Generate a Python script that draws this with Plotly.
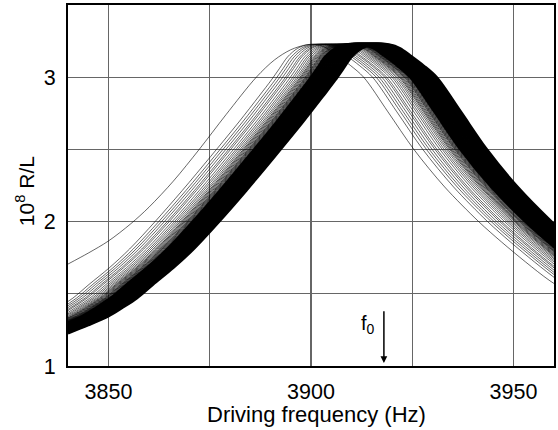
import plotly.graph_objects as go

# ---- data ----
# Rightmost (outer) response curve of the dense family: driving frequency (Hz) -> 10^8 R/L
R_HZ = [3840, 3845, 3850, 3853.5, 3857, 3861, 3866, 3871, 3877.3, 3884, 3891, 3898,
        3903, 3906, 3908, 3910, 3912.5, 3915, 3919.5, 3922, 3924.5, 3927.8, 3931,
        3937, 3943.4, 3951, 3959.4, 3965, 3971, 3977, 3985]
R_VAL = [1.227, 1.283, 1.345, 1.405, 1.47, 1.565, 1.68, 1.81, 2.00, 2.215, 2.45, 2.69,
         2.87, 2.98, 3.06, 3.14, 3.20, 3.225, 3.225, 3.20, 3.15, 3.08, 3.00,
         2.76, 2.50, 2.24, 2.00, 1.86, 1.72, 1.59, 1.45]

# Isolated earliest (leftmost) response curve
L_HZ = [3840, 3845, 3850, 3855.5, 3860, 3866, 3872.4, 3879, 3886.5, 3891, 3895,
        3899, 3901.5, 3904, 3906.5, 3909.8, 3913, 3919, 3925.4, 3933, 3941.4,
        3947, 3953, 3959, 3967]
L_VAL = [1.706, 1.782, 1.866, 1.985, 2.10, 2.28, 2.50, 2.74, 3.00, 3.12, 3.19,
         3.225, 3.225, 3.20, 3.15, 3.08, 3.00, 2.76, 2.50, 2.24, 2.00,
         1.86, 1.72, 1.59, 1.45]

# Frequency offsets (Hz, to lower frequency) of the other sweeps relative to the rightmost curve
SOLID_SHIFTS = [0.0, 0.5, 1.0, 1.5, 2.0, 2.5, 3.0, 3.5, 4.0, 4.5, 5.0, 5.5, 6.0, 6.5]
STIPPLE_SHIFTS = [6.8, 7.0, 7.2, 7.4, 7.6, 7.8, 8.0, 8.3, 8.6, 8.9, 9.2]
THIN_SHIFTS = [9.6, 10.0, 10.5, 11.0, 11.6, 12.3, 12.8, 13.5, 14.2, 14.9, 15.8]

X_MAJOR = [3850, 3900, 3950]
X_MINOR = [3875, 3925]
Y_MAJOR = [1, 2, 3]
Y_MINOR = [1.5, 2.5]
X_RANGE = [3840, 3960]
Y_RANGE = [1, 3.5]

F0_HZ = 3918
F0_ARROW_TOP = 1.39
F0_ARROW_TIP = 1.02

FONT = "Liberation Sans, Arial, Helvetica, sans-serif"

fig = go.Figure()

def add_curve(xs, ys, width, color):
    fig.add_trace(go.Scatter(
        x=xs, y=ys, mode="lines",
        line=dict(color=color, width=width, shape="spline", smoothing=0.9),
        hoverinfo="skip", showlegend=False))

add_curve(L_HZ, L_VAL, 0.8, "rgba(0,0,0,0.75)")
for s in THIN_SHIFTS:
    add_curve([h - s for h in R_HZ], R_VAL, 0.7, "rgba(0,0,0,0.85)")
for s in STIPPLE_SHIFTS:
    add_curve([h - s for h in R_HZ], R_VAL, 1.0, "rgba(0,0,0,0.7)")
for s in SOLID_SHIFTS:
    add_curve([h - s for h in R_HZ], R_VAL, 2.6, "black")

# f0 arrow and label
fig.add_annotation(x=F0_HZ, y=F0_ARROW_TIP, ax=F0_HZ, ay=F0_ARROW_TOP,
                   xref="x", yref="y", axref="x", ayref="y",
                   text="", showarrow=True, arrowhead=2, arrowsize=0.9,
                   arrowwidth=1.5, arrowcolor="black")
fig.add_annotation(x=3914.0, y=1.29, xref="x", yref="y", showarrow=False,
                   text="f<sub>0</sub>", font=dict(family=FONT, size=20, color="black"))

# axis titles
fig.add_annotation(x=0.512, y=-0.134, xref="paper", yref="paper", showarrow=False,
                   text="Driving frequency (Hz)", xanchor="center", yanchor="middle",
                   font=dict(family=FONT, size=22, color="black"))
fig.add_annotation(x=-0.088, y=0.485, xref="paper", yref="paper", showarrow=False,
                   text="10<sup>8</sup> R/L", textangle=-90, xanchor="center", yanchor="middle",
                   font=dict(family=FONT, size=21, color="black"))

grid_color = "#666666"
axis_common = dict(showline=True, mirror=True, linecolor="black", linewidth=2,
                   showgrid=True, gridcolor=grid_color, gridwidth=1.3,
                   zeroline=False, ticks="", tickfont=dict(family=FONT, size=21.5, color="black"))

fig.update_xaxes(range=X_RANGE, tickmode="array", tickvals=X_MAJOR,
                 minor=dict(tickmode="array", tickvals=X_MINOR, showgrid=True,
                            gridcolor=grid_color, gridwidth=1.3, ticks=""),
                 ticklabelstandoff=5, **axis_common)
fig.update_yaxes(range=Y_RANGE, tickmode="array", tickvals=Y_MAJOR,
                 minor=dict(tickmode="array", tickvals=Y_MINOR, showgrid=True,
                            gridcolor=grid_color, gridwidth=1.3, ticks=""),
                 ticklabelstandoff=6, **axis_common)

fig.update_layout(width=558, height=430,
                  margin=dict(l=68, r=2, t=5, b=64, pad=0),
                  paper_bgcolor="white", plot_bgcolor="white",
                  font=dict(family=FONT, color="black"))

fig.write_html("out.html", config={"displayModeBar": False, "staticPlot": True},
               post_script="document.body.style.margin='0px';document.body.style.overflow='hidden';")
